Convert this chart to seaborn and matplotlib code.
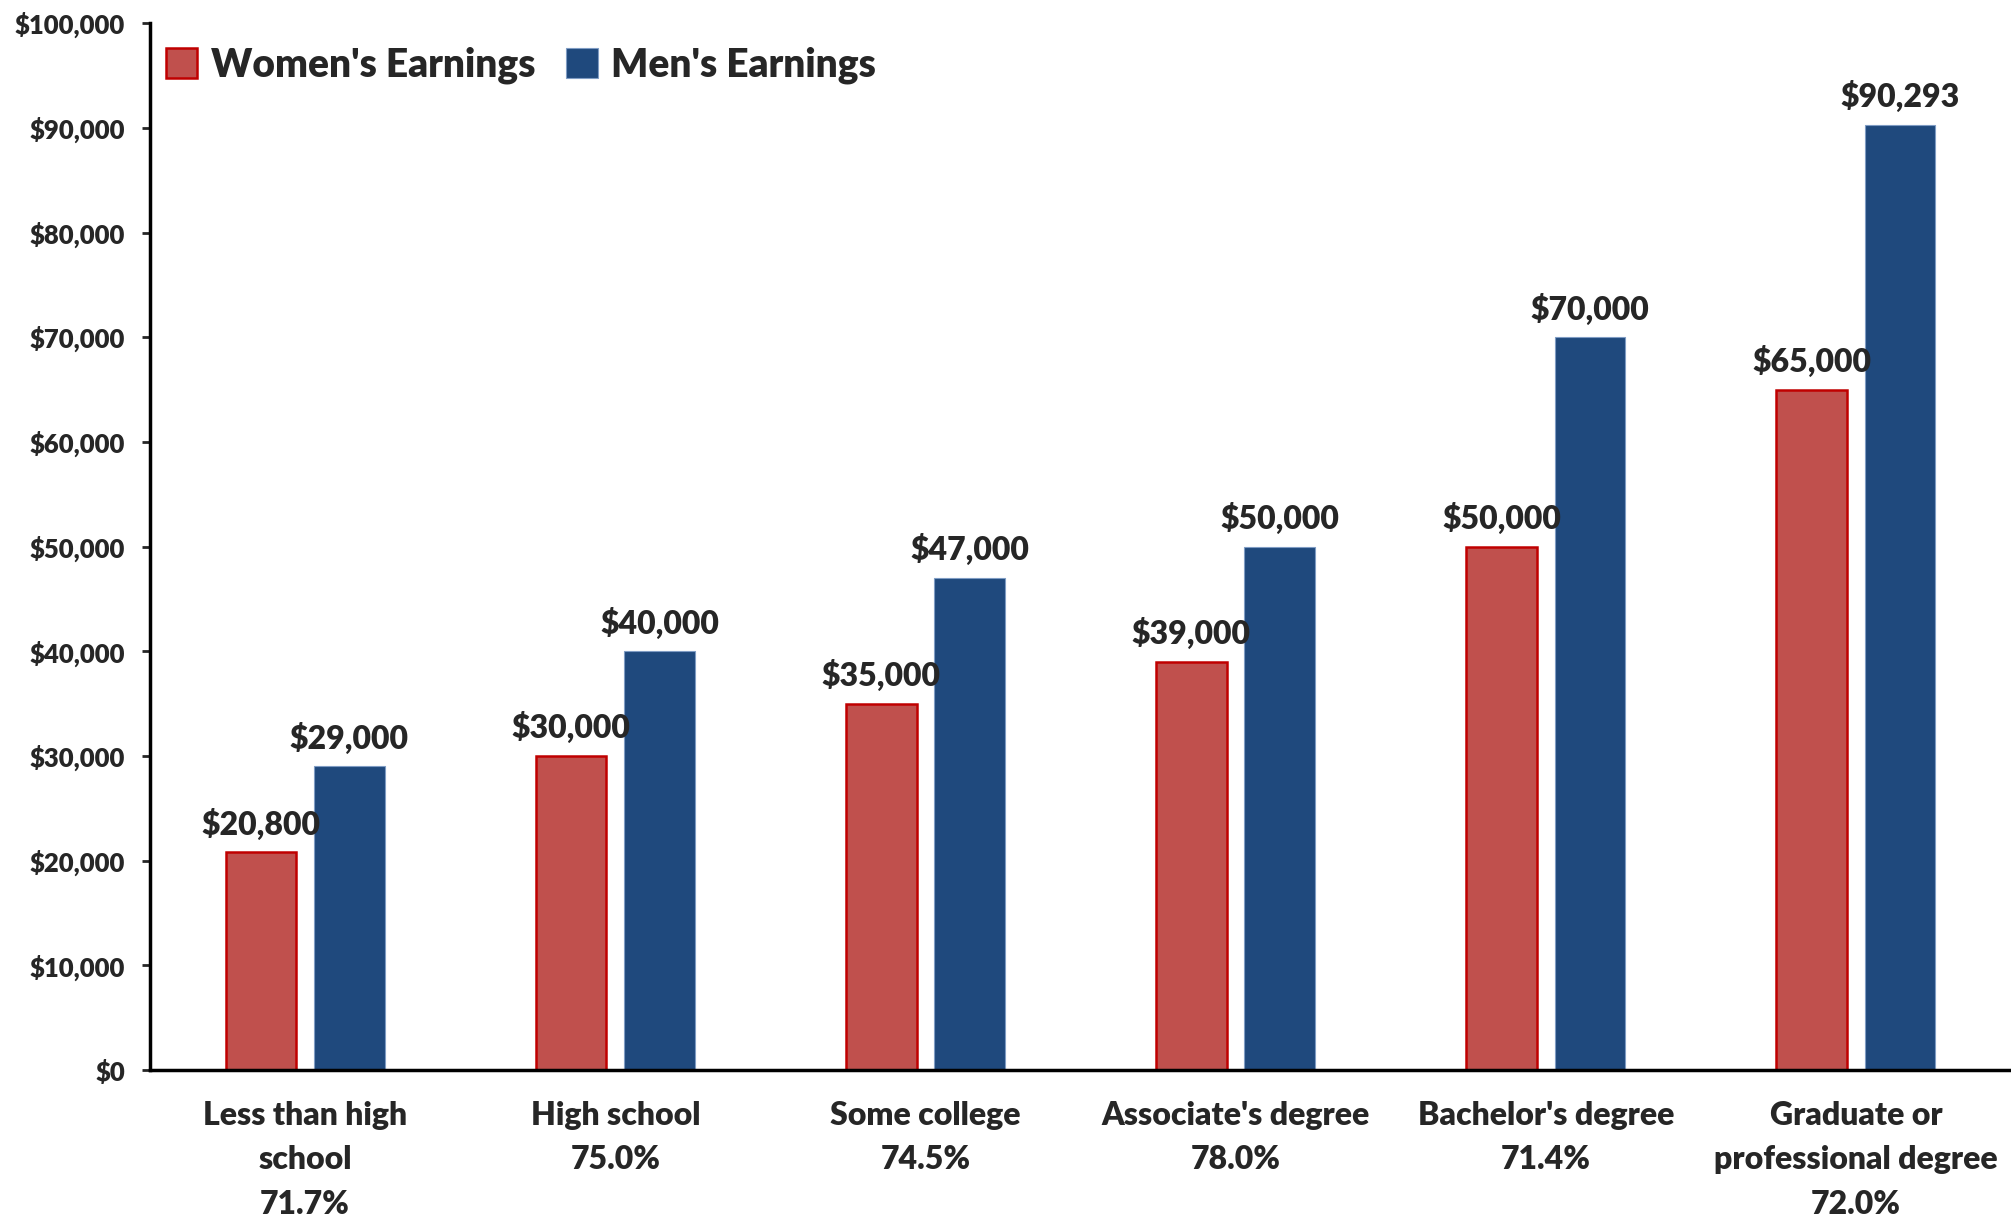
import pandas as pd
import seaborn as sns
import matplotlib.pyplot as plt
from matplotlib.ticker import FuncFormatter, MultipleLocator

categories = ["Less than high\nschool\n71.7%", "High school\n75.0%", "Some college\n74.5%",
              "Associate's degree\n78.0%", "Bachelor's degree\n71.4%",
              "Graduate or\nprofessional degree\n72.0%"]
women = [20800, 30000, 35000, 39000, 50000, 65000]
men = [29000, 40000, 47000, 50000, 70000, 90293]
series = ["Women's Earnings", "Men's Earnings"]

df = pd.DataFrame({
    "category": categories * 2,
    "earnings": women + men,
    "series": [series[0]] * len(women) + [series[1]] * len(men),
})

sns.set_style("white")
plt.rcParams['font.family'] = ['Lato', 'DejaVu Sans']
W = 'heavy'

fig = plt.figure(figsize=(20.11, 12.18), dpi=100)
ax = fig.add_axes([0.0746, 0.1215, 0.9254, 0.8595])

palette = {series[0]: "#C0504D", series[1]: "#1F497D"}
sns.barplot(data=df, x="category", y="earnings", hue="series", palette=palette,
            width=0.57, gap=0.2, saturation=1, ax=ax, errorbar=None)

edges = [("#C00000", 1.8), ("#7F9CC4", 0.8)]
for cont, (ec, lw) in zip(ax.containers, edges):
    for bar in cont:
        bar.set_edgecolor(ec)
        bar.set_linewidth(lw)
    ax.bar_label(cont, labels=[f"${v:,.0f}" for v in cont.datavalues],
                 padding=9, fontsize=23, fontweight=W)

ax.set_ylim(0, 100000)
ax.set_xlim(-0.5, 5.5)
ax.yaxis.set_major_locator(MultipleLocator(10000))
ax.yaxis.set_major_formatter(FuncFormatter(lambda v, p: f"${v:,.0f}"))
ax.set_xlabel("")
ax.set_ylabel("")
ax.tick_params(axis='y', labelsize=18.5, length=6, width=2, direction='out', left=True, pad=12)
ax.tick_params(axis='x', labelsize=23, length=0, pad=22)
for lab in ax.get_yticklabels():
    lab.set_fontweight(W)
for lab in ax.get_xticklabels():
    lab.set_fontweight(W)
    lab.set_linespacing(1.65)

sns.despine(ax=ax)
for side in ['left', 'bottom']:
    ax.spines[side].set_linewidth(2.5)
    ax.spines[side].set_color('black')

leg = ax.legend(loc='upper left', bbox_to_anchor=(-0.006, 1.004), ncol=2, frameon=False,
                fontsize=28, handlelength=0.8, handleheight=0.8, handletextpad=0.35,
                columnspacing=0.8, borderaxespad=0.3)
for t in leg.get_texts():
    t.set_fontweight(W)
for h, (ec, lw) in zip(leg.legend_handles, edges):
    h.set_edgecolor(ec)
    h.set_linewidth(lw)

fig.savefig("out.png", dpi=100)
